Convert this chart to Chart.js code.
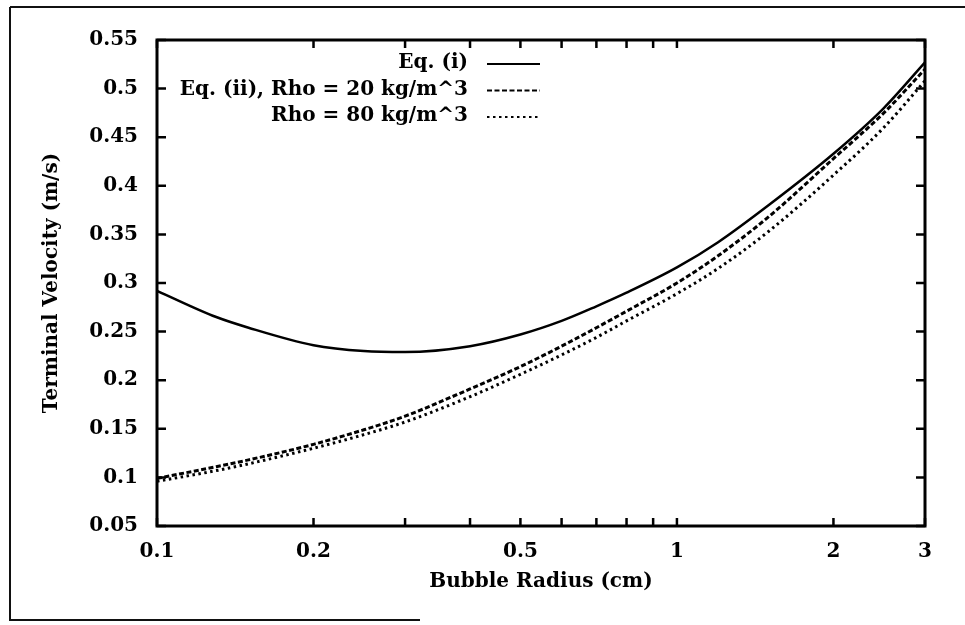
<!DOCTYPE html>
<html>
<head>
<meta charset="utf-8">
<script src="https://cdn.jsdelivr.net/npm/chart.js@4.4.0/dist/chart.umd.min.js"></script>
<style>
  html, body { margin: 0; padding: 0; background: #fff; }
  canvas { display: block; }
</style>
</head>
<body>
<canvas id="velocityChart" width="965" height="625"></canvas>
<script>
// bubble radius (cm) and terminal velocity (m/s)
var radius = [0.1, 0.13, 0.15, 0.2, 0.25, 0.3, 0.4, 0.5, 0.6, 0.7, 0.8, 1, 1.2, 1.5, 2, 2.5, 3];
var eqI = [0.292, 0.265, 0.254, 0.236, 0.230, 0.229, 0.235, 0.247, 0.261, 0.276, 0.290, 0.316, 0.342, 0.380, 0.433, 0.480, 0.527];
var eqIiRho20 = [0.099, 0.111, 0.118, 0.134, 0.149, 0.163, 0.191, 0.214, 0.235, 0.254, 0.271, 0.300, 0.328, 0.368, 0.428, 0.475, 0.520];
var eqIiRho80 = [0.096, 0.107, 0.114, 0.130, 0.144, 0.157, 0.183, 0.206, 0.226, 0.244, 0.261, 0.289, 0.315, 0.353, 0.411, 0.460, 0.508];

var seriesLabels = ['Eq. (i)', 'Eq. (ii), Rho = 20 kg/m^3', 'Rho = 80 kg/m^3'];

var xTickValues = [0.1, 0.2, 0.3, 0.4, 0.5, 0.6, 0.7, 0.8, 0.9, 1, 2, 3];
var xTickLabels = [0.1, 0.2, 0.5, 1, 2, 3];
var yTickValues = [0.05, 0.1, 0.15, 0.2, 0.25, 0.3, 0.35, 0.4, 0.45, 0.5, 0.55];

var FONT = 'DejaVu Serif';

function pts(ys) {
    return radius.map(function (x, i) { return { x: x, y: ys[i] }; });
}

// scanned-page border around the figure
var pageBorder = {
    id: 'pageBorder',
    beforeDraw: function (chart) {
        var c = chart.ctx;
        c.save();
        c.strokeStyle = '#111';
        c.lineWidth = 2;
        c.beginPath();
        c.moveTo(10, 7); c.lineTo(965, 7);
        c.moveTo(10, 7); c.lineTo(10, 620);
        c.lineTo(420, 620);
        c.stroke();
        c.restore();
    }
};

// gnuplot style frame with inward ticks on all four sides
var frameTicks = {
    id: 'frameTicks',
    afterDatasetsDraw: function (chart) {
        var c = chart.ctx, a = chart.chartArea;
        var xs = chart.scales.x, ys = chart.scales.y;
        c.save();
        c.strokeStyle = '#000';
        c.lineWidth = 2.5;
        c.beginPath();
        xs.ticks.forEach(function (t) {
            var px = xs.getPixelForValue(t.value);
            c.moveTo(px, a.bottom); c.lineTo(px, a.bottom - 8);
            c.moveTo(px, a.top); c.lineTo(px, a.top + 8);
        });
        ys.ticks.forEach(function (t) {
            var py = ys.getPixelForValue(t.value);
            c.moveTo(a.left, py); c.lineTo(a.left + 9, py);
            c.moveTo(a.right, py); c.lineTo(a.right - 9, py);
        });
        c.stroke();
        c.lineWidth = 3;
        c.strokeRect(a.left, a.top, a.right - a.left, a.bottom - a.top);
        c.restore();
    }
};

// key: right aligned text with the line sample after it
var keyPlugin = {
    id: 'key',
    afterDraw: function (chart) {
        var c = chart.ctx, a = chart.chartArea;
        var textRight = a.left + 311;
        c.save();
        c.font = 'bold 20px "' + FONT + '"';
        c.fillStyle = '#000';
        c.textAlign = 'right';
        c.textBaseline = 'middle';
        chart.data.datasets.forEach(function (ds, i) {
            var y = a.top + 23 + i * 26.5;
            c.fillText(ds.label, textRight, y);
            c.strokeStyle = ds.borderColor;
            c.lineWidth = 2;
            c.setLineDash(ds.borderDash || []);
            c.beginPath();
            c.moveTo(textRight + 19, y + 1);
            c.lineTo(textRight + 72, y + 1);
            c.stroke();
        });
        c.restore();
    }
};

var ctx = document.getElementById('velocityChart').getContext('2d');
var chart = new Chart(ctx, {
    type: 'line',
    data: {
        datasets: [{
            label: seriesLabels[0],
            data: pts(eqI),
            borderColor: '#000',
            borderWidth: 2.5,
            borderDash: [],
            pointRadius: 0,
            cubicInterpolationMode: 'monotone',
            fill: false
        }, {
            label: seriesLabels[1],
            data: pts(eqIiRho20),
            borderColor: '#000',
            borderWidth: 3,
            borderDash: [5, 2.5],
            pointRadius: 0,
            cubicInterpolationMode: 'monotone',
            fill: false
        }, {
            label: seriesLabels[2],
            data: pts(eqIiRho80),
            borderColor: '#000',
            borderWidth: 3,
            borderDash: [2.5, 3.5],
            pointRadius: 0,
            cubicInterpolationMode: 'monotone',
            fill: false
        }]
    },
    options: {
        responsive: false,
        animation: false,
        events: [],
        layout: { padding: { left: 0, top: 40, right: 40, bottom: 0 } },
        plugins: {
            legend: { display: false },
            tooltip: { enabled: false }
        },
        scales: {
            x: {
                type: 'logarithmic',
                min: 0.1,
                max: 3,
                afterBuildTicks: function (s) {
                    s.ticks = xTickValues.map(function (v) { return { value: v }; });
                },
                afterFit: function (s) { s.height = 99; },
                grid: { display: false, drawTicks: false },
                border: { display: false },
                ticks: {
                    autoSkip: false,
                    maxRotation: 0,
                    padding: 14,
                    color: '#000',
                    font: { family: FONT, size: 20, weight: 'bold' },
                    callback: function (v) {
                        return xTickLabels.indexOf(v) >= 0 ? String(v) : '';
                    }
                },
                title: {
                    display: true,
                    text: 'Bubble Radius (cm)',
                    color: '#000',
                    font: { family: FONT, size: 20, weight: 'bold' },
                    padding: { top: 0, bottom: 31 }
                }
            },
            y: {
                type: 'linear',
                min: 0.05,
                max: 0.55,
                afterBuildTicks: function (s) {
                    s.ticks = yTickValues.map(function (v) { return { value: v }; });
                },
                afterFit: function (s) { s.width = 157; },
                grid: { display: false, drawTicks: false },
                border: { display: false },
                ticks: {
                    padding: 19,
                    color: '#000',
                    font: { family: FONT, size: 20, weight: 'bold' },
                    callback: function (v) { return String(+Number(v).toFixed(2)); }
                },
                title: {
                    display: true,
                    text: 'Terminal Velocity (m/s)',
                    color: '#000',
                    font: { family: FONT, size: 20, weight: 'bold' },
                    padding: { top: 40, bottom: 0 }
                }
            }
        }
    },
    plugins: [pageBorder, frameTicks, keyPlugin]
});
</script>
</body>
</html>
